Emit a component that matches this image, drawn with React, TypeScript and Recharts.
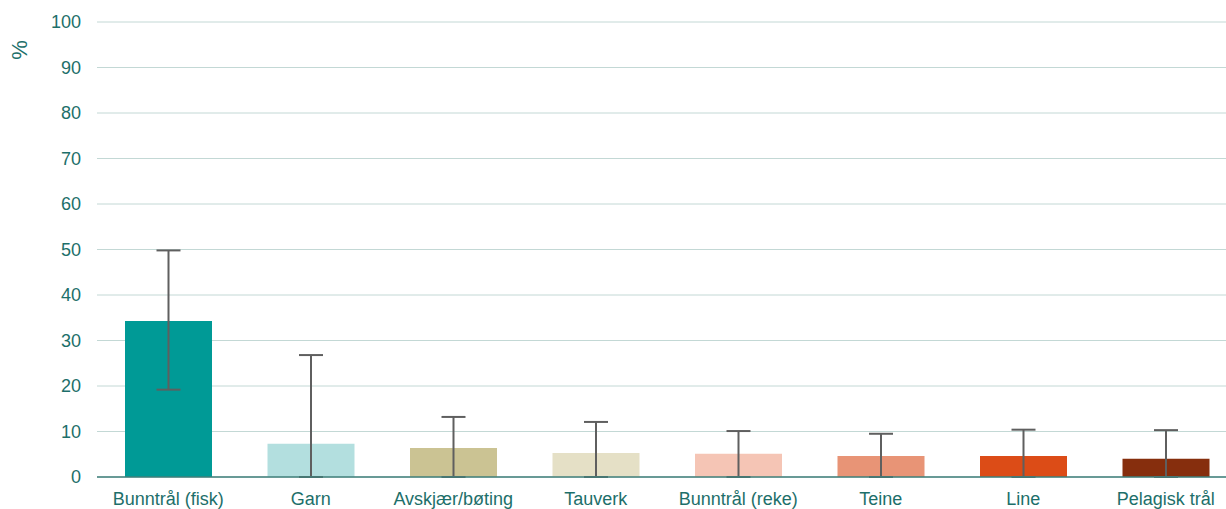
import { Bar, BarChart, CartesianGrid, Cell, ErrorBar, XAxis, YAxis } from 'recharts';

// categories and values (%)
const gearTypes = ['Bunntrål (fisk)', 'Garn', 'Avskjær/bøting', 'Tauverk', 'Bunntrål (reke)', 'Teine', 'Line', 'Pelagisk trål'];
const shares = [34.3, 7.3, 6.4, 5.3, 5.1, 4.6, 4.6, 4.0];
const errMinus = [15.1, 7.3, 6.4, 5.3, 5.1, 4.6, 4.6, 4.0];
const errPlus = [15.5, 19.5, 6.8, 6.8, 5.0, 4.9, 5.8, 6.3];
const yTicks = [0, 10, 20, 30, 40, 50, 60, 70, 80, 90, 100];
const barColors = ['#009a96', '#b3dfdf', '#cbc393', '#e5e0c6', '#f5c5b5', '#e89476', '#dc4c17', '#862e0d'];

const textColor = '#1d6f6a';
const font = '"Liberation Sans", Arial, sans-serif';

const data = gearTypes.map((name, i) => ({
  name,
  value: shares[i],
  err: [errMinus[i], errPlus[i]],
}));

const PercentLabel = () => (
  <text x={21} y={50} fill={textColor} fontSize={22} fontFamily={font} textAnchor="middle" transform="rotate(-90 21 50)" dominantBaseline="middle">
    %
  </text>
);

export default function App() {
  return (
    <div style={{ position: 'absolute', left: 0, top: 0, width: 1226, height: 509, overflow: 'hidden', background: '#fff' }}>
      <BarChart
        width={1240}
        height={509}
        data={data}
        margin={{ top: 22, right: 3, bottom: 0, left: 0 }}
        barSize={87}
      >
        <CartesianGrid vertical={false} stroke="#c3d8d5" strokeWidth={1} />
        <XAxis
          dataKey="name"
          interval={0}
          height={32}
          tickSize={0}
          tickMargin={15}
          axisLine={{ stroke: '#3f7f7a', strokeWidth: 1.5 }}
          tick={{ fill: textColor, fontSize: 18, fontFamily: font }}
        />
        <YAxis
          width={97}
          domain={[0, 100]}
          ticks={yTicks}
          axisLine={false}
          tickLine={false}
          tickSize={0}
          tickMargin={16}
          tick={{ fill: textColor, fontSize: 18, fontFamily: font }}
          label={<PercentLabel />}
        />
        <Bar dataKey="value" isAnimationActive={false}>
          {data.map((d, i) => (
            <Cell key={d.name} fill={barColors[i]} />
          ))}
          <ErrorBar dataKey="err" width={12} stroke="#5f5f5f" strokeWidth={2} />
        </Bar>
      </BarChart>
    </div>
  );
}
